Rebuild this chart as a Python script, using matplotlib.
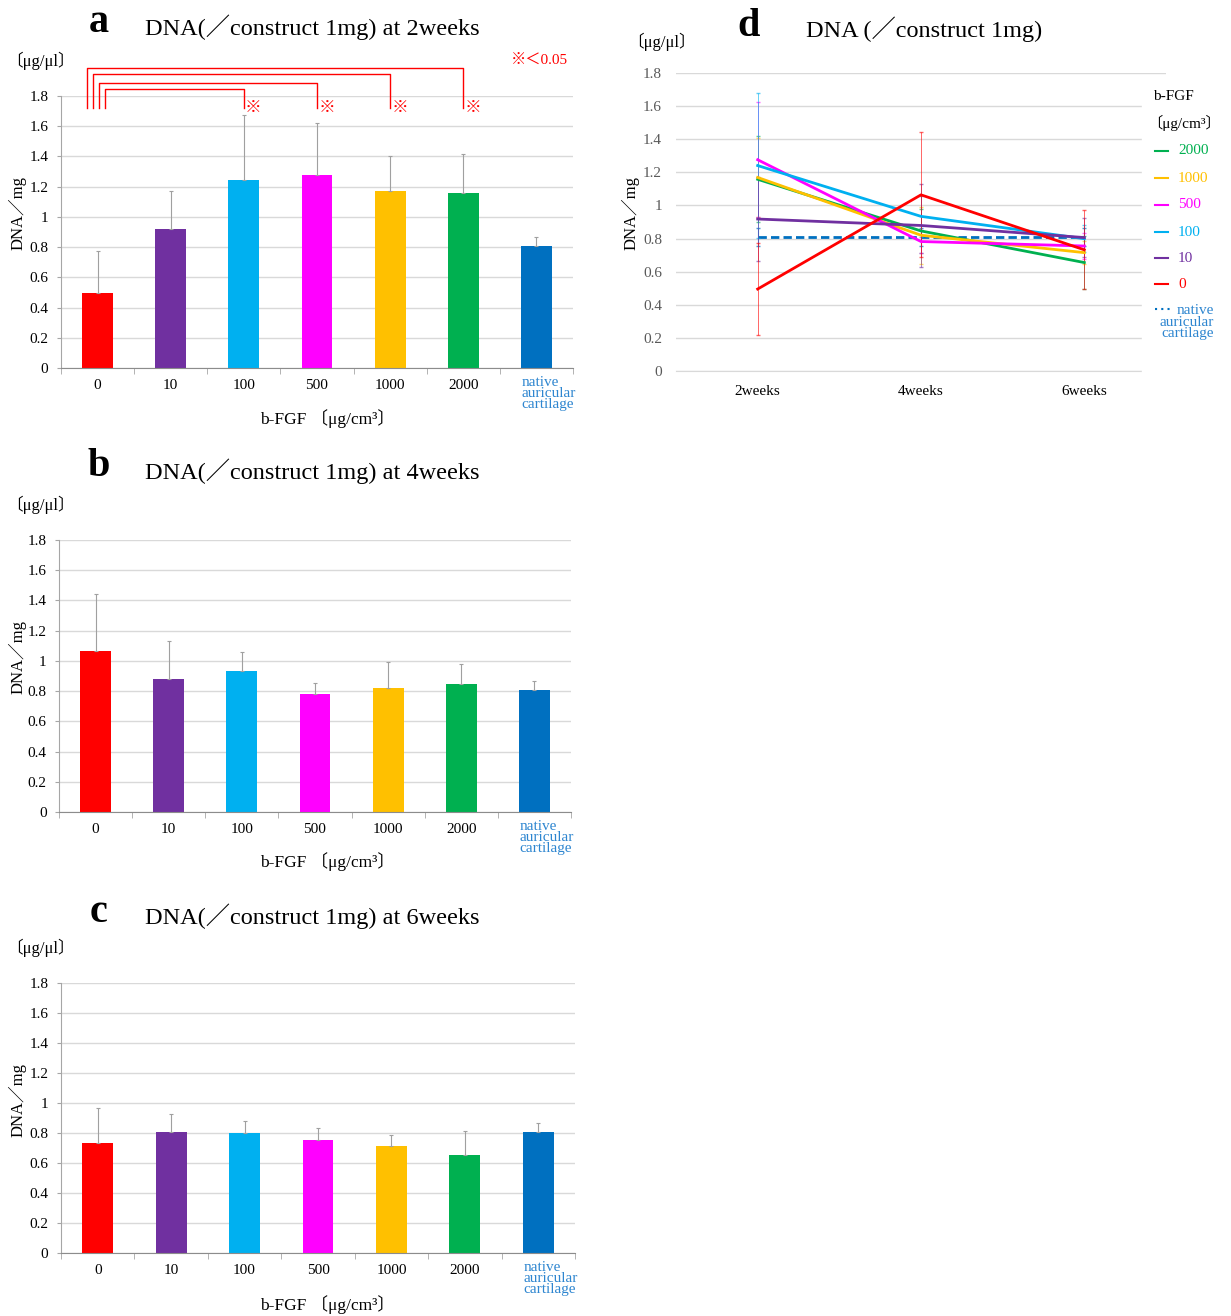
import matplotlib.pyplot as plt
from matplotlib.lines import Line2D
from matplotlib.patches import Rectangle
from matplotlib.ticker import FuncFormatter, MultipleLocator
import numpy as np

plt.rcParams['font.family'] = ['Liberation Serif', 'Noto Sans CJK JP']

doses = ['0', '10', '100', '500', '1000', '2000']
colors = ['#FF0000', '#7030A0', '#00B0F0', '#FF00FF', '#FFC000', '#00B050']
native_color = '#0070C0'
native_txt = '#2E86D0'

# DNA per construct (mean, SD) for each b-FGF dose
dna_2w = [0.495, 0.918, 1.241, 1.276, 1.169, 1.158]
sd_2w = [0.277, 0.251, 0.436, 0.346, 0.237, 0.261]
dna_4w = [1.064, 0.879, 0.934, 0.782, 0.820, 0.846]
sd_4w = [0.377, 0.251, 0.126, 0.071, 0.171, 0.132]
dna_6w = [0.732, 0.806, 0.799, 0.755, 0.715, 0.655]
sd_6w = [0.238, 0.119, 0.082, 0.077, 0.071, 0.159]
native_dna = 0.81
native_sd = 0.056
weeks = ['2weeks', '4weeks', '6weeks']

# doses significantly different from 0 at 2 weeks (p<0.05)
sig_idx = [2, 3, 4, 5]
sig_top = [1.846, 1.885, 1.945, 1.984]
sig_left = [0.10, 0.02, -0.065, -0.14]

W, H = 1231, 1316
fig = plt.figure(figsize=(W / 100, H / 100), dpi=100)


def add_ax(l, t, r, b):
    return fig.add_axes([l / W, 1 - b / H, (r - l) / W, (b - t) / H])


def ftext(x, y, s, **kw):
    fig.text(x / W, 1 - y / H, s, **kw)


def bar_panel(ax, vals, sds):
    x = np.arange(7)
    v = vals + [native_dna]
    e = sds + [native_sd]
    ax.bar(x, v, width=0.42, color=colors + [native_color], zorder=2)
    ax.errorbar(x, v, yerr=[np.zeros(7), e], fmt='none', ecolor='#A0A0A0',
                elinewidth=0.8, capsize=1.5, capthick=0.8, zorder=3)
    ax.set_xlim(-0.5, 6.5)
    ax.set_ylim(0, 1.8)
    ax.yaxis.set_major_locator(MultipleLocator(0.2))
    ax.yaxis.set_major_formatter(FuncFormatter(lambda val, p: f'{val:g}'))
    ax.grid(axis='y', color='#D9D9D9', lw=1)
    ax.set_axisbelow(True)
    for s in ['top', 'right']:
        ax.spines[s].set_visible(False)
    ax.spines['left'].set_color('#A6A6A6')
    ax.spines['bottom'].set_color('#8C8C8C')
    ax.set_xticks(x[:6])
    ax.set_xticklabels(doses, fontsize=11)
    ax.set_xticks(np.arange(-0.5, 7, 1), minor=True)
    ax.tick_params(axis='x', which='major', length=0, pad=8)
    ax.tick_params(axis='x', which='minor', length=4, color='#A6A6A6')
    ax.tick_params(axis='y', length=3, color='#A6A6A6', labelsize=11, pad=6)
    ax.text(5.8, -0.03, 'native\nauricular\ncartilage', transform=ax.get_xaxis_transform(),
            ha='left', va='top', color=native_txt, fontsize=11, linespacing=0.8)


def panel_texts(letter, title, y0, ylab_y, xlab_y, unit_y):
    ftext(99, y0, letter, fontsize=29, fontweight='bold', ha='center', va='center')
    ftext(145, y0 + 4, title, fontsize=17.5, ha='left', va='center')
    ftext(6, unit_y, '〔μg/μl〕', fontsize=12, ha='left', va='center')
    ftext(17, ylab_y, 'DNA／mg', fontsize=12, rotation=90, ha='center', va='center')
    ftext(327, xlab_y, 'b-FGF 〔μg/cm³〕', fontsize=12.5, ha='center', va='center')


# a: 2 weeks
ax_a = add_ax(61, 96, 573, 368)
bar_panel(ax_a, dna_2w, sd_2w)
panel_texts('a', 'DNA(／construct 1mg) at 2weeks', 23, 213, 419, 61)
for k, i in enumerate(sig_idx):
    xl = sig_left[k]
    ax_a.plot([xl, xl, i, i], [1.72, sig_top[k], sig_top[k], 1.72], color='#FF0000',
              lw=1, clip_on=False, zorder=4)
    ax_a.text(i + 0.13, 1.72, '※', color='#FF0000', fontsize=12, ha='center',
              va='center', clip_on=False)
ftext(568, 60, '※＜0.05', color='#FF0000', fontsize=11, ha='right', va='center')

# b: 4 weeks
ax_b = add_ax(59, 540, 571, 812)
bar_panel(ax_b, dna_4w, sd_4w)
panel_texts('b', 'DNA(／construct 1mg) at 4weeks', 467, 657, 862, 505)

# c: 6 weeks
ax_c = add_ax(61, 983, 575, 1253)
bar_panel(ax_c, dna_6w, sd_6w)
panel_texts('c', 'DNA(／construct 1mg) at 6weeks', 912, 1100, 1305, 948)

# d: time course
ax_d = add_ax(676, 73, 1166, 371)
xw = np.arange(3)
series = list(zip(dna_2w, dna_4w, dna_6w))
series_sd = list(zip(sd_2w, sd_4w, sd_6w))
ax_d.plot(xw, [native_dna] * 3, color=native_color, lw=2, ls=(0, (3, 1.5)), zorder=2)
ax_d.errorbar(xw, [native_dna] * 3, yerr=native_sd, fmt='none', ecolor=native_color,
              elinewidth=0.8, capsize=1.5, alpha=0.7, zorder=2)
for i in [5, 4, 3, 2, 1, 0]:
    ax_d.errorbar(xw, series[i], yerr=series_sd[i], fmt='none', ecolor=colors[i],
                  elinewidth=0.7, capsize=1.5, alpha=0.6, zorder=2)
    ax_d.plot(xw, series[i], color=colors[i], lw=2, zorder=3)
ax_d.set_xlim(-0.5, 2.5)
ax_d.set_ylim(0, 1.8)
ax_d.yaxis.set_major_locator(MultipleLocator(0.2))
ax_d.yaxis.set_major_formatter(FuncFormatter(lambda val, p: f'{val:g}'))
ax_d.grid(axis='y', color='#D9D9D9', lw=1)
ax_d.set_axisbelow(True)
for s in ['top', 'right', 'left']:
    ax_d.spines[s].set_visible(False)
ax_d.spines['bottom'].set_color('#D9D9D9')
ax_d.set_xticks(xw)
ax_d.set_xticklabels(weeks, fontsize=11)
ax_d.tick_params(axis='x', length=0, pad=10)
ax_d.tick_params(axis='y', length=0, labelsize=11, labelcolor='#595959', pad=10)

fig.add_artist(Rectangle((1142 / W, 1 - 380 / H), (W - 1142) / W, 295 / H,
                         transform=fig.transFigure, color='white', zorder=1))
ftext(749, 27, 'd', fontsize=29, fontweight='bold', ha='center', va='center')
ftext(806, 29, 'DNA (／construct 1mg)', fontsize=17.5, ha='left', va='center')
ftext(627, 42, '〔μg/μl〕', fontsize=12, ha='left', va='center')
ftext(630, 213, 'DNA／mg', fontsize=12, rotation=90, ha='center', va='center')

ftext(1153, 97, 'b-FGF', fontsize=11, ha='left', va='center')
ftext(1147, 123, '〔μg/cm³〕', fontsize=11, ha='left', va='center')
leg_y = [151, 178, 205, 232, 258, 284]
for k, i in enumerate([5, 4, 3, 2, 1, 0]):
    y = 1 - leg_y[k] / H
    fig.add_artist(Line2D([1155 / W, 1168 / W], [y, y], transform=fig.transFigure,
                          color=colors[i], lw=1.5, zorder=2))
    ftext(1178, leg_y[k], doses[i], color=colors[i], fontsize=11, ha='left', va='center')
y = 1 - 309 / H
fig.add_artist(Line2D([1155 / W, 1170 / W], [y, y], transform=fig.transFigure,
                      color=native_color, lw=1.5, ls=(0, (1, 2)), zorder=2))
ftext(1214, 322, 'native\nauricular\ncartilage', color=native_txt, fontsize=11,
      ha='right', va='center', multialignment='right', linespacing=0.8)

fig.savefig('out.png', dpi=100)
